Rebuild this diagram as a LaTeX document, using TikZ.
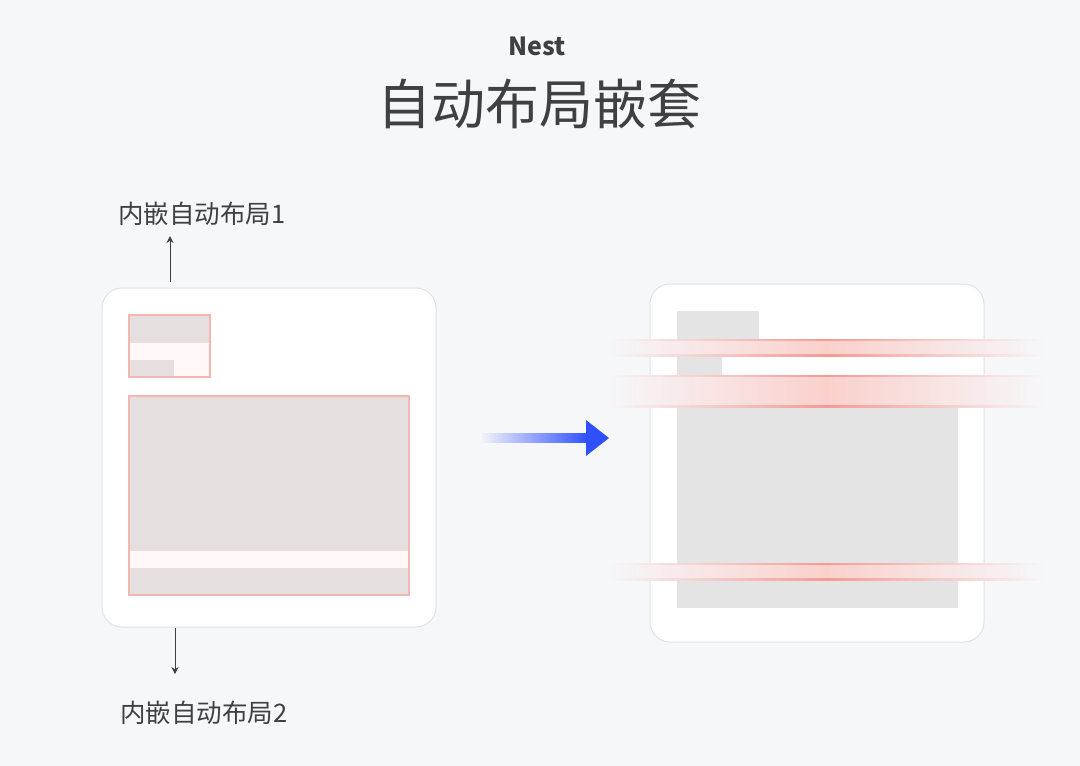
\documentclass[tikz,border=0pt]{standalone}
\usepackage{fontspec}
\newfontfamily\cjk{Noto Sans CJK SC}
\usetikzlibrary{fadings,arrows.meta}
\definecolor{pagebg}{HTML}{F6F7F9}
\definecolor{cardline}{HTML}{E2E2E6}
\definecolor{boxgray}{HTML}{E5DFDF}
\definecolor{boxline}{HTML}{F2B8B0}
\definecolor{stripfill}{HTML}{FFF8F6}
\definecolor{plaingray}{HTML}{E4E4E4}
\definecolor{bandred}{HTML}{F28A80}
\definecolor{arrowblue}{HTML}{3050FF}
\definecolor{inkgray}{HTML}{404040}
\tikzset{
  card/.style={fill=white, draw=cardline, line width=1pt, rounded corners=20pt},
  nestbox/.style={draw=boxline, line width=1.5pt},
  band/.style={left color=pagebg, right color=pagebg, middle color=bandred!40!white},
  bandedge/.style={left color=pagebg, right color=pagebg, middle color=bandred!85!white},
  label/.style={font=\cjk\fontsize{25.5}{28}\selectfont, text=inkgray, inner sep=0pt},
  pointer/.style={draw=inkgray, line width=1pt, -{Stealth[length=7pt,width=7pt]}}
}
\begin{document}
\begin{tikzpicture}[x=1pt,y=-1pt]
\fill[pagebg] (0,0) rectangle (1080,766);
\useasboundingbox (0,0) rectangle (1080,766);
% Title
\node[font=\cjk\bfseries\fontsize{25}{28}\selectfont, text=inkgray] (nest) at (537,46) {Nest};
\node[font=\cjk\fontsize{54}{60}\selectfont, text=inkgray] (title) at (539,104) {自动布局嵌套};
% Left card
\draw[card] (102,288) rectangle (436,627);
\fill[boxgray] (129,315) rectangle (210,377);
\fill[stripfill] (129,343) rectangle (210,360);
\fill[stripfill] (174,360) rectangle (210,377);
\draw[nestbox] (129,315) rectangle (210,377);
\fill[boxgray] (129,396) rectangle (409,595);
\fill[stripfill] (129,551) rectangle (409,568);
\draw[nestbox] (129,396) rectangle (409,595);
% Labels
\coordinate (up0) at (170,282);
\coordinate (dn0) at (175,628);
\node[label] (nest1) at (202,214) {内嵌自动布局1};
\node[label] (nest2) at (204,713) {内嵌自动布局2};
\draw[pointer] (up0) -- (170,236);
\draw[pointer] (dn0) -- (175,674);
% Blue arrow
\fill[arrowblue, path fading=west] (480,433) rectangle (588,443);
\fill[arrowblue] (586,420) -- (609,438) -- (586,456) -- cycle;
% Right card
\draw[card] (650,284) rectangle (984,642);
\fill[plaingray] (677,311) rectangle (759,342);
\fill[plaingray] (677,342) rectangle (722,376);
\fill[plaingray] (677,376) rectangle (958,608);
% Bands
\foreach \ya/\yb in {339/356, 375/407, 563/580}{
  \shade[band] (608,\ya) rectangle (1045,\yb);
  \shade[bandedge] (608,\ya) rectangle (1045,\ya+1.5);
  \shade[bandedge] (608,\yb-1.5) rectangle (1045,\yb);
}
\end{tikzpicture}
\end{document}
